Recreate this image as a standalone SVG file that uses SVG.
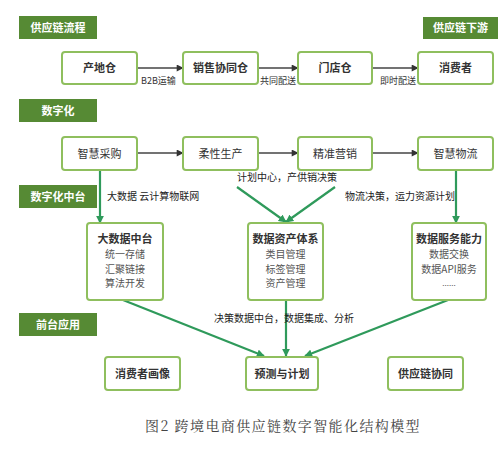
<svg xmlns="http://www.w3.org/2000/svg" width="500" height="452" viewBox="0 0 500 452">
<defs>
<style>
.hdr rect{fill:#568a34;}
.hdr text{fill:#fff;font-size:11px;font-weight:bold;text-anchor:middle;}
text{font-family:"Noto Sans CJK SC","Noto Sans",sans-serif;}
.node rect{fill:#fff;stroke:#8fbf5e;stroke-width:2;}
.node text{fill:#333;font-size:11px;text-anchor:middle;}
.node text.s{fill:#555;font-size:10px;}
.b{font-weight:bold;}
.lbl{fill:#222;font-size:10px;}
.lbl1{fill:#333;font-size:9px;}
.flow{stroke:#444;stroke-width:1.5;fill:none;}
.g{stroke:#2f9a5b;stroke-width:2.2;fill:none;}
.cap{fill:#444;font-family:"Noto Serif CJK SC","Liberation Serif","Noto Sans CJK SC",serif;font-size:14px;letter-spacing:1.4px;}
</style>
<marker id="ad" viewBox="0 0 10 10" refX="9" refY="5" markerWidth="9" markerHeight="7" markerUnits="userSpaceOnUse" orient="auto"><path d="M0,0L10,5L0,10z" fill="#333"/></marker>
<marker id="ag" viewBox="0 0 10 10" refX="9" refY="5" markerWidth="8" markerHeight="8" markerUnits="userSpaceOnUse" orient="auto"><path d="M0,0L10,5L0,10z" fill="#2f9a5b"/></marker>
</defs>
<rect width="500" height="452" fill="#fff"/>

<g id="headers">
<g id="h1" class="hdr"><rect x="19" y="16" width="78" height="23"/><text x="58" y="31.5">供应链流程</text></g>
<g id="h2" class="hdr"><rect x="423" y="17" width="75" height="22"/><text x="460.5" y="32">供应链下游</text></g>
<g id="h3" class="hdr"><rect x="19" y="99" width="78" height="23"/><text x="58" y="114.5">数字化</text></g>
<g id="h4" class="hdr"><rect x="19" y="185" width="78" height="23"/><text x="58" y="200.5">数字化中台</text></g>
<g id="h5" class="hdr"><rect x="19" y="313" width="78" height="23"/><text x="58" y="328.5">前台应用</text></g>
</g>

<g id="connectors">
<line class="flow" x1="137" y1="68" x2="183" y2="68" marker-end="url(#ad)"/>
<line class="flow" x1="258" y1="68" x2="298" y2="68" marker-end="url(#ad)"/>
<line class="flow" x1="372" y1="68" x2="418" y2="68" marker-end="url(#ad)"/>
<line class="flow" x1="137" y1="153" x2="183" y2="153" marker-end="url(#ad)"/>
<line class="flow" x1="258" y1="153" x2="298" y2="153" marker-end="url(#ad)"/>
<line class="flow" x1="372" y1="153" x2="418" y2="153" marker-end="url(#ad)"/>
<line class="g" x1="100" y1="171" x2="100" y2="223" marker-end="url(#ag)"/>
<line class="g" x1="456" y1="171" x2="456" y2="223" marker-end="url(#ag)"/>
<line class="g" x1="237" y1="187" x2="286" y2="222" marker-end="url(#ag)"/>
<line class="g" x1="335" y1="187" x2="286" y2="222" marker-end="url(#ag)"/>
<line class="g" x1="123" y1="300" x2="264" y2="356" marker-end="url(#ag)"/>
<line class="g" x1="286" y1="301" x2="286" y2="356" marker-end="url(#ag)"/>
<line class="g" x1="448" y1="300" x2="305" y2="356" marker-end="url(#ag)"/>
<text class="lbl1" x="141" y="84">B2B运输</text>
<text class="lbl1" x="260" y="84">共同配送</text>
<text class="lbl1" x="380" y="84">即时配送</text>
<text class="lbl" x="107" y="200">大数据 云计算物联网</text>
<text class="lbl" x="237" y="181">计划中心，产供销决策</text>
<text class="lbl" x="345" y="200">物流决策，运力资源计划</text>
<text class="lbl" x="214" y="322">决策数据中台，数据集成、分析</text>
</g>

<g id="n1" class="node"><rect x="62" y="52" width="75" height="32" rx="3"/><text class="b" x="99.5" y="72">产地仓</text></g>
<g id="n2" class="node"><rect x="183" y="52" width="75" height="32" rx="3"/><text class="b" x="220.5" y="72">销售协同仓</text></g>
<g id="n3" class="node"><rect x="298" y="52" width="74" height="32" rx="3"/><text class="b" x="335" y="72">门店仓</text></g>
<g id="n4" class="node"><rect x="418" y="52" width="75" height="32" rx="3"/><text class="b" x="455.5" y="72">消费者</text></g>

<g id="n5" class="node"><rect x="62" y="137" width="75" height="33" rx="3"/><text x="99.5" y="157.5">智慧采购</text></g>
<g id="n6" class="node"><rect x="183" y="137" width="75" height="33" rx="3"/><text x="220.5" y="157.5">柔性生产</text></g>
<g id="n7" class="node"><rect x="298" y="137" width="74" height="33" rx="3"/><text x="335" y="157.5">精准营销</text></g>
<g id="n8" class="node"><rect x="418" y="137" width="75" height="33" rx="3"/><text x="455.5" y="157.5">智慧物流</text></g>

<g id="n9" class="node"><rect x="87" y="223" width="76" height="77" rx="3"/>
<text class="b" x="125" y="243">大数据中台</text><text class="s" x="125" y="258">统一存储</text><text class="s" x="125" y="272.5">汇聚链接</text><text class="s" x="125" y="287">算法开发</text></g>
<g id="n10" class="node"><rect x="248" y="223" width="75" height="77" rx="3"/>
<text class="b" x="285.5" y="243">数据资产体系</text><text class="s" x="285.5" y="258">类目管理</text><text class="s" x="285.5" y="272.5">标签管理</text><text class="s" x="285.5" y="287">资产管理</text></g>
<g id="n11" class="node"><rect x="412" y="223" width="74" height="77" rx="3"/>
<text class="b" x="449" y="243">数据服务能力</text><text class="s" x="449" y="258">数据交换</text><text class="s" x="449" y="272.5">数据API服务</text><text class="s" x="449" y="286" style="font-size:8px">......</text></g>

<g id="n12" class="node"><rect x="105" y="357" width="75" height="33" rx="3"/><text class="b" x="142.5" y="377.5">消费者画像</text></g>
<g id="n13" class="node"><rect x="246" y="357" width="72" height="33" rx="3"/><text class="b" x="282" y="377.5">预测与计划</text></g>
<g id="n14" class="node"><rect x="388" y="357" width="75" height="33" rx="3"/><text class="b" x="425.5" y="377.5">供应链协同</text></g>

<text class="cap" x="145" y="431">图2 跨境电商供应链数字智能化结构模型</text>
</svg>
